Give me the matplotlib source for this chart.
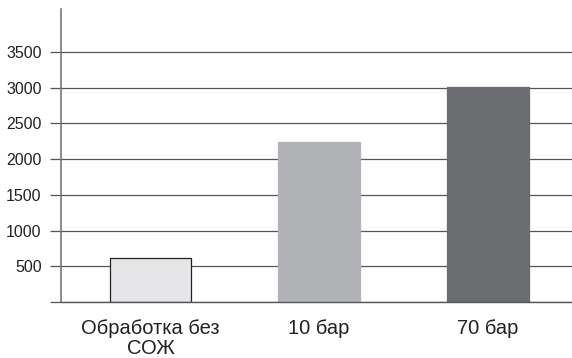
import matplotlib
matplotlib.use("Agg")
import matplotlib.pyplot as plt

categories = ["Обработка без\nСОЖ", "10 бар", "70 бар"]
values = [620, 2240, 3010]
colors = ["#e6e6e8", "#b1b2b6", "#6b6c70"]
edges = ["#222222", "#b1b2b6", "#6b6c70"]
yticks = [0, 500, 1000, 1500, 2000, 2500, 3000, 3500]
ytick_labels = ["", "500", "1000", "1500", "2000", "2500", "3000", "3500"]

plt.rcParams["font.family"] = ["Liberation Sans", "DejaVu Sans"]

fig = plt.figure(figsize=(5.72, 3.58), dpi=100)
ax = fig.add_axes([61 / 572, 1 - 302 / 358, 1 - 61 / 572, (302 - 9) / 358])

x = list(range(len(categories)))
ax.bar(x, values, width=0.485, color=colors, edgecolor=edges, linewidth=0.9, zorder=3)

ax.set_xlim(-0.531, 2.50)
ax.set_ylim(0, 4100)
ax.set_yticks(yticks)
ax.set_yticklabels(ytick_labels, fontsize=11.5, color="#222222")
ax.tick_params(axis="y", length=8, width=0.9, color="#555555", pad=6)
ax.yaxis.grid(True, color="#555555", linewidth=0.9, zorder=0)
ax.axhline(0, color="#555555", linewidth=1.0, clip_on=False, zorder=4)

ax.set_xticks(x)
ax.set_xticklabels(categories, fontsize=14.5, color="#222222", linespacing=1.1)
ax.tick_params(axis="x", length=0, pad=12)

for side in ["top", "right", "bottom"]:
    ax.spines[side].set_visible(False)
ax.spines["left"].set_color("#777777")
ax.spines["left"].set_linewidth(1.2)

fig.savefig("out.png", dpi=100)
